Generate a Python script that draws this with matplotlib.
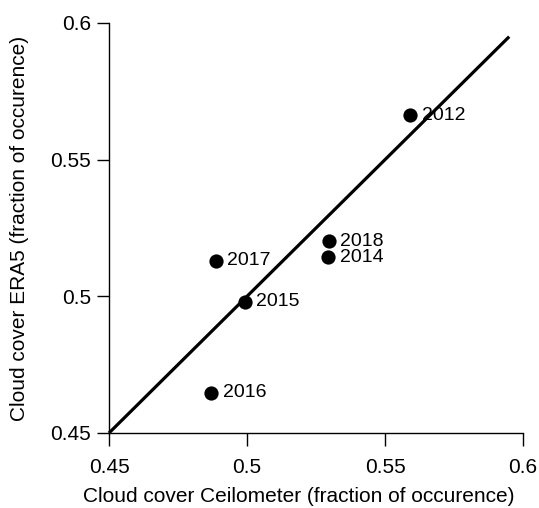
import matplotlib
matplotlib.use("Agg")
import matplotlib.pyplot as plt

years = ["2012", "2018", "2014", "2017", "2015", "2016"]
ceilometer = [0.5592, 0.5297, 0.5295, 0.4887, 0.4993, 0.4871]
era5 = [0.5663, 0.5202, 0.5143, 0.5130, 0.4980, 0.4647]
line_x = [0.45, 0.595]
line_y = [0.45, 0.595]
ticks = [0.45, 0.5, 0.55, 0.6]
tick_labels = ["0.45", "0.5", "0.55", "0.6"]

plt.rcParams['font.family'] = ['Liberation Sans', 'DejaVu Sans']

fig = plt.figure(figsize=(5.39, 5.08), dpi=100)
ax = fig.add_axes([109/539, 1-433/508, (523-109)/539, (433-23)/508])

ax.plot(line_x, line_y, color='black', lw=2.3, solid_capstyle='butt', clip_on=False)
ax.scatter(ceilometer, era5, s=105, color='black', zorder=3, clip_on=False, linewidths=0)
for x, y, t in zip(ceilometer, era5, years):
    ax.annotate(t, (x, y), xytext=(8, 0), textcoords='offset points',
                va='center', ha='left', fontsize=14)

ax.set_xlim(0.45, 0.6)
ax.set_ylim(0.45, 0.6)
ax.set_xticks(ticks)
ax.set_xticklabels(tick_labels)
ax.set_yticks(ticks)
ax.set_yticklabels(tick_labels)
for s in ['top', 'right']:
    ax.spines[s].set_visible(False)
for s in ['left', 'bottom']:
    ax.spines[s].set_linewidth(1.0)
ax.tick_params(axis='both', direction='out', length=9, width=1.0, labelsize=15)
ax.tick_params(axis='x', pad=9)
ax.tick_params(axis='y', pad=4)
ax.set_xlabel("Cloud cover Ceilometer (fraction of occurence)", fontsize=15, labelpad=7,
              x=(299-109)/414)
ax.set_ylabel("Cloud cover ERA5 (fraction of occurence)", fontsize=15, labelpad=15)

fig.savefig("out.png", dpi=100)
